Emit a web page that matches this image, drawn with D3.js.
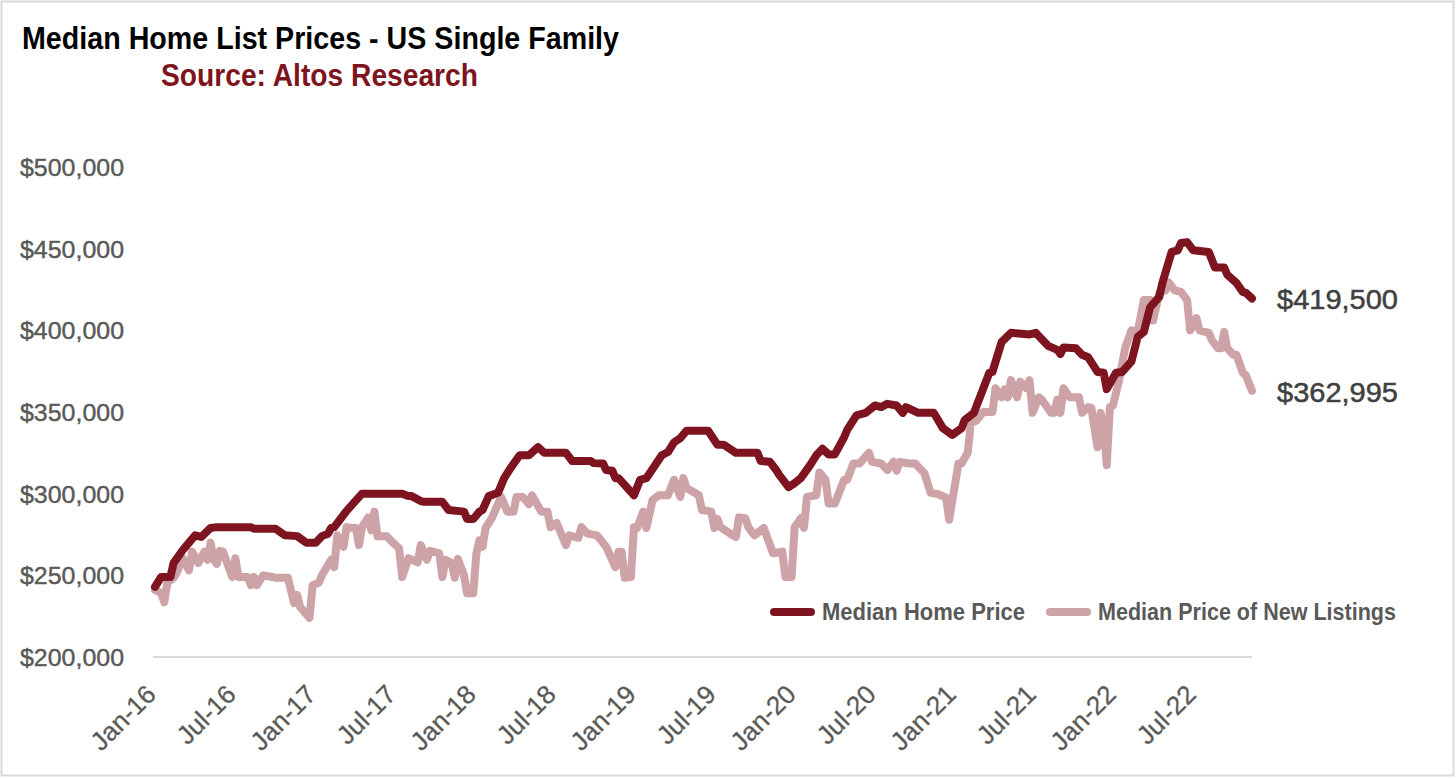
<!DOCTYPE html>
<html>
<head>
<meta charset="utf-8">
<script src="https://cdn.jsdelivr.net/npm/d3@7"></script>
<style>
body { margin: 0; background: #fff; }
svg { display: block; }
</style>
</head>
<body>
<script>
// weeks counted from the start of Jan-16
var homeWeeks = [0,2,5,6,9,11,13,15,18,20,31,32,39,42,46,49,52,54,56,57,58,60,62,67,80,82,83,86,87,93,95,100,101,103,105,106,108,111,113,115,118,121,124,126,133,135,141,142,145,146,148,149,150,155,157,159,164,166,168,170,172,179,182,184,188,195,196,199,201,202,205,207,209,212,214,216,218,220,223,224,227,230,233,235,237,240,242,243,247,252,255,258,261,262,265,270,271,274,277,283,285,289,292,293,294,298,300,302,305,307,308,311,313,316,318,320,322,325,326,329,331,332,334,336,341,343,346,347,350,352,353,355];
var homePrice = [243000,249000,249000,257500,265500,270000,274500,273500,279000,279500,279500,278500,278500,274500,274000,270000,270000,274000,275500,279000,279500,284500,289500,300000,300000,298500,298500,295500,295000,295000,290000,289000,284500,284500,289000,290000,298500,300500,309500,315500,323500,323500,328500,325000,325000,320000,320000,318700,318500,314500,314000,309500,309500,299000,308500,309500,323500,325500,331500,334000,338500,338500,330000,330000,325000,325000,320000,319500,314500,311500,304000,306500,309500,317500,323500,327500,324000,324000,334500,339000,348000,349500,354000,353000,355000,354000,349500,353000,349500,349500,340000,336000,340000,345000,349500,374000,374500,393000,398500,397500,398500,390500,388000,385500,389500,389000,385000,383500,374500,374000,364000,374000,374500,381000,396000,399000,414000,420500,429000,448000,449000,453500,454000,449000,448000,438500,438500,434000,429000,423500,423000,419500];

var newWeeks = [0,2,3,4,6,7,9,11,12,14,16,17,18,19,20,21,22,25,26,27,30,31,32,33,35,38,39,43,45,46,47,50,51,53,54,57,58,59,61,62,64,65,66,67,69,70,71,72,75,77,79,80,82,85,86,88,89,92,93,94,96,97,98,100,101,103,104,105,106,107,109,112,114,116,117,119,121,122,125,127,128,130,133,134,137,138,140,143,146,149,150,151,152,154,155,156,158,159,161,163,166,168,170,171,172,176,177,180,181,182,183,187,188,189,191,192,194,197,200,203,204,206,207,209,210,211,214,215,217,218,220,223,224,226,228,231,232,235,237,239,240,241,244,246,249,251,253,256,257,260,261,263,264,266,268,271,272,274,275,276,277,279,280,282,283,284,286,287,290,291,292,293,294,296,299,300,302,303,305,306,307,308,309,310,312,314,316,318,320,322,323,325,327,328,330,332,334,335,337,338,341,342,344,345,346,347,349,350,352,353,355];
var newPrice = [241000,239000,233500,245500,248500,251500,260500,253000,264500,257500,264500,259500,270000,259500,257000,265000,264500,249000,260500,249000,249000,244000,249000,244000,250000,249000,248500,248500,233000,238000,230500,224000,244000,245500,250000,259500,255000,274500,267500,279500,279000,279000,268500,279500,285500,277500,289000,274000,274000,270000,266500,249000,260500,258000,268500,259500,265000,263500,249000,259500,257500,248500,260000,250000,239000,239000,263500,271500,267500,279000,285000,298000,289000,289000,298000,298000,293500,299000,289000,289000,279500,282000,268500,274500,273000,279500,275500,274500,267500,255000,264500,264500,248500,249000,279500,279000,289000,279000,296000,299000,299000,308500,298000,309500,303500,299000,290000,289000,279000,284500,279500,274500,273500,285500,285000,279500,274500,279000,263500,264500,249000,249000,279500,285000,279000,298000,299000,313000,308500,294000,294000,308500,308500,318500,318500,325000,319500,318500,314500,319500,314000,319500,318500,318500,312500,300500,300000,297500,284000,318500,318500,325000,343000,345000,350000,350000,364500,359000,364000,359000,369500,359000,368500,364500,369500,349500,359000,357500,349500,349500,357500,349500,364500,359000,359000,349500,353000,352500,328500,349500,341000,317500,353000,354000,369500,389500,400000,399000,418500,418500,406000,423000,424500,429500,424500,423500,418500,400000,407500,400000,398500,394000,389000,389000,399000,389000,385000,385000,374000,372500,362995];

var yTicks = [200000,250000,300000,350000,400000,450000,500000];
var xTickLabels = ['Jan-16','Jul-16','Jan-17','Jul-17','Jan-18','Jul-18','Jan-19','Jul-19','Jan-20','Jul-20','Jan-21','Jul-21','Jan-22','Jul-22'];
var seriesNames = ['Median Home Price','Median Price of New Listings'];
var seriesColors = ['#7d1420','#cda3a8'];
var endLabels = ['$419,500','$362,995'];

var width = 1456, height = 779;

var x = d3.scaleLinear().domain([0, 355]).range([155, 1252]);
var y = d3.scaleLinear().domain([200000, 500000]).range([657, 167]);
// labels sit on their own even spacing, the right end of each rotated label
var xLabels = d3.scalePoint().domain(xTickLabels).range([157, 1197]);

var svg = d3.select('body').append('svg')
	.attr('width', width)
	.attr('height', height);

// frame around the picture
svg.append('rect')
	.attr('x', 1.5).attr('y', 1.5)
	.attr('width', 1452).attr('height', 774)
	.attr('fill', '#fff')
	.attr('stroke', '#d9d9d9')
	.attr('stroke-width', 2);

var sans = '"Liberation Sans", Arial, sans-serif';

// no condensed face here, so squeeze the bold one to the measured widths
svg.append('text').text('Median Home List Prices - US Single Family')
	.attr('x', 22).attr('y', 49)
	.attr('textLength', 597).attr('lengthAdjust', 'spacingAndGlyphs')
	.attr('font-family', sans).attr('font-size', 31).attr('font-weight', 'bold')
	.attr('fill', '#000');

svg.append('text').text('Source: Altos Research')
	.attr('x', 161).attr('y', 86)
	.attr('textLength', 317).attr('lengthAdjust', 'spacingAndGlyphs')
	.attr('font-family', sans).attr('font-size', 31).attr('font-weight', 'bold')
	.attr('fill', '#7d1420');

// axes
var yAxis = d3.axisLeft(y).tickValues(yTicks).tickSize(0).tickFormat(d3.format('$,'));
svg.append('g').attr('class', 'y-axis')
	.attr('transform', 'translate(20,1)')
	.call(yAxis)
	.call(function(g){ g.select('.domain').remove(); })
	.selectAll('text')
	.attr('x', 0)
	.attr('text-anchor', 'start')
	.attr('textLength', 104).attr('lengthAdjust', 'spacingAndGlyphs')
	.attr('font-family', sans).attr('font-size', 23).attr('fill', '#595959')
	.attr('stroke', '#595959').attr('stroke-width', 0.4);

var xAxis = d3.axisBottom(xLabels).tickSize(0);
var xg = svg.append('g').attr('class', 'x-axis')
	.attr('transform', 'translate(0,657)')
	.call(xAxis);
xg.select('.domain').remove();
xg.selectAll('text')
	.attr('text-anchor', 'end')
	.attr('dy', 0).attr('y', 0)
	.attr('transform', 'translate(0,39) rotate(-45)')
	.attr('font-family', sans).attr('font-size', 26).attr('fill', '#595959')
	.attr('stroke', '#595959').attr('stroke-width', 0.3);

svg.append('line')
	.attr('x1', x.range()[0] - 2).attr('x2', x.range()[1])
	.attr('y1', y(200000)).attr('y2', y(200000))
	.attr('stroke', '#d9d9d9').attr('stroke-width', 2);

// lines, light one goes under the dark one
var line = d3.line()
	.x(function(d){ return x(d[0]); })
	.y(function(d){ return y(d[1]); });

svg.append('path')
	.datum(d3.zip(newWeeks, newPrice))
	.attr('d', line)
	.attr('fill', 'none').attr('stroke', seriesColors[1]).attr('stroke-width', 8)
	.attr('stroke-linejoin', 'round').attr('stroke-linecap', 'round');

svg.append('path')
	.datum(d3.zip(homeWeeks, homePrice))
	.attr('d', line)
	.attr('fill', 'none').attr('stroke', seriesColors[0]).attr('stroke-width', 8)
	.attr('stroke-linejoin', 'round').attr('stroke-linecap', 'round');

// end labels
svg.selectAll('.end-label')
	.data([homePrice[homePrice.length - 1], newPrice[newPrice.length - 1]])
	.enter().append('text')
	.attr('class', 'end-label')
	.attr('x', 1277)
	.attr('y', function(d){ return y(d) + 11; })
	.text(function(d, i){ return endLabels[i]; })
	.attr('textLength', 121).attr('lengthAdjust', 'spacingAndGlyphs')
	.attr('font-family', sans).attr('font-size', 28).attr('fill', '#404040')
	.attr('stroke', '#404040').attr('stroke-width', 0.5);

// legend
var legendX = [771, 1047];
var legendWidth = [203, 298];
var legend = svg.selectAll('.legend')
	.data(seriesNames)
	.enter().append('g')
	.attr('class', 'legend')
	.attr('transform', function(d, i){ return 'translate(' + legendX[i] + ',612)'; });
legend.append('line')
	.attr('x1', 3).attr('x2', 40)
	.attr('stroke', function(d, i){ return seriesColors[i]; })
	.attr('stroke-width', 8).attr('stroke-linecap', 'round');
legend.append('text')
	.attr('x', 51).attr('y', 8)
	.text(function(d){ return d; })
	.attr('textLength', function(d, i){ return legendWidth[i]; })
	.attr('lengthAdjust', 'spacingAndGlyphs')
	.attr('font-family', sans).attr('font-size', 24).attr('font-weight', 'bold')
	.attr('fill', '#595959');
</script>
</body>
</html>
